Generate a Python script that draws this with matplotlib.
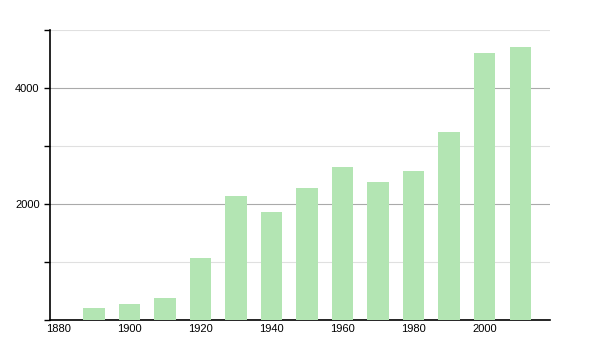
import matplotlib
matplotlib.use("Agg")
import matplotlib.pyplot as plt
from matplotlib.ticker import MultipleLocator, NullFormatter

years = [1890, 1900, 1910, 1920, 1930, 1940, 1950, 1960, 1970, 1980, 1990, 2000, 2010]
population = [207, 276, 379, 1069, 2138, 1862, 2276, 2638, 2379, 2569, 3241, 4600, 4700]
x_ticks = [1880, 1900, 1920, 1940, 1960, 1980, 2000]
y_ticks = [2000, 4000]

fig = plt.figure(figsize=(6, 3.5), dpi=100)
ax = fig.add_axes([50/600, 30/350, 500/600, 290/350])

ax.bar(years, population, width=6, color="#b3e5b3", zorder=3)

ax.set_xlim(1877.6, 2018.4)
ax.set_ylim(0, 5000)
ax.set_xticks(x_ticks)
ax.set_xticklabels([str(t) for t in x_ticks], fontsize=8, family="Liberation Sans")
ax.set_yticks(y_ticks)
ax.set_yticklabels([str(t) for t in y_ticks], fontsize=8, family="Liberation Sans")
ax.yaxis.set_minor_locator(MultipleLocator(1000))
ax.yaxis.set_minor_formatter(NullFormatter())
ax.tick_params(axis="x", length=0, pad=3)
ax.tick_params(axis="y", which="both", length=4, width=1, direction="out")

ax.grid(axis="y", which="major", color="#aaaaaa", linewidth=0.8, zorder=0)
ax.grid(axis="y", which="minor", color="#e0e0e0", linewidth=0.8, zorder=0)

for s in ["top", "right"]:
    ax.spines[s].set_visible(False)
ax.spines["left"].set_linewidth(1.2)
ax.spines["bottom"].set_linewidth(1.2)

fig.savefig("out.png", dpi=100)
